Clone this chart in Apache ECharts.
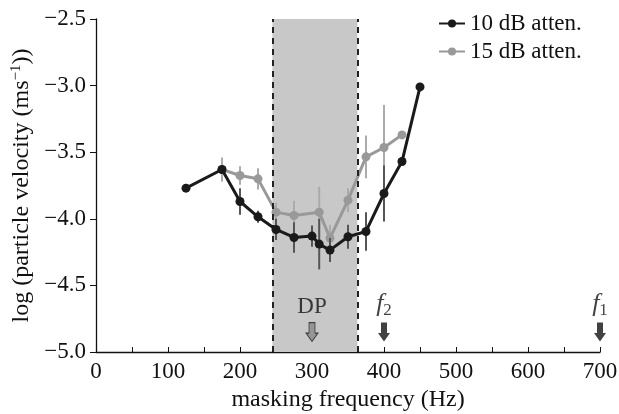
<!DOCTYPE html>
<html>
<head>
<meta charset="utf-8">
<script src="https://cdn.jsdelivr.net/npm/echarts@6/dist/echarts.min.js"></script>
<style>html,body{margin:0;padding:0;background:#fff}#c{width:619px;height:414px}</style>
</head>
<body>
<div id="c"></div>
<script>
// ---- data ----
var xBlack = [125, 175, 200, 225, 250, 275, 300, 310, 325, 350, 375, 400, 425, 450];
var yBlack = [-3.77, -3.63, -3.87, -3.985, -4.08, -4.14, -4.13, -4.19, -4.235, -4.135, -4.095, -3.81, -3.57, -3.01];
var eBlack = [0, 0, 0.10, 0.045, 0.08, 0.115, 0.08, 0.19, 0.09, 0.09, 0.145, 0.21, 0, 0];
var xGray = [175, 200, 225, 250, 275, 310, 325, 350, 375, 400, 425];
var yGray = [-3.63, -3.675, -3.70, -3.95, -3.975, -3.95, -4.145, -3.86, -3.535, -3.465, -3.37];
var eGray = [0.09, 0.07, 0.08, 0.07, 0.11, 0.19, 0.10, 0.09, 0.16, 0.32, 0];
var seriesNames = ['10 dB atten.', '15 dB atten.'];
var bandRange = [245, 363];
var annotX = [300, 400, 700];
var annotText = ['DP', '{f|f}{s|2}', '{f|f}{s|1}'];
var xTicks = [0, 100, 200, 300, 400, 500, 600, 700];
var yTicks = [-5.0, -4.5, -4.0, -3.5, -3.0, -2.5];

var FONT = 'Liberation Serif';
var blackData = xBlack.map(function (x, i) { return [x, yBlack[i]]; });
var grayData = xGray.map(function (x, i) { return [x, yGray[i]]; });
var blackErr = xBlack.map(function (x, i) { return [x, yBlack[i], eBlack[i]]; });
var grayErr = xGray.map(function (x, i) { return [x, yGray[i], eGray[i]]; });

function errRender(color) {
  return function (params, api) {
    var x = api.value(0), y = api.value(1), e = api.value(2);
    if (!e) return null;
    var p1 = api.coord([x, y + e]), p2 = api.coord([x, y - e]);
    return { type: 'line', shape: { x1: p1[0], y1: p1[1], x2: p2[0], y2: p2[1] },
             style: { stroke: color, lineWidth: 2 } };
  };
}

var arrowPath = 'path://M3,0 L9,0 L9,10 L12,10 L6,18 L0,10 L3,10 Z';
var annotData = annotX.map(function (x, i) {
  return {
    value: [x, -4.85],
    itemStyle: i === 0 ? { color: '#8a8a8a', borderColor: '#222', borderWidth: 1 } : { color: '#111' },
    label: { formatter: annotText[i] }
  };
});

var chart = echarts.init(document.getElementById('c'));
chart.setOption({
  animation: false,
  textStyle: { fontFamily: FONT },
  grid: { left: 96, right: 19, top: 19, bottom: 62, containLabel: false, outerBoundsMode: 'none' },
  legend: {
    data: seriesNames,
    orient: 'vertical',
    left: 433, top: 7,
    itemWidth: 26, itemHeight: 10, itemGap: 5,
    textStyle: { fontFamily: FONT, fontSize: 23, color: '#111' }
  },
  xAxis: {
    type: 'value', min: 0, max: 700, interval: 50,
    axisLine: { onZero: false, lineStyle: { color: '#111', width: 1.3 } },
    axisTick: { inside: true, length: 5, lineStyle: { color: '#111' } },
    splitLine: { show: false },
    axisLabel: {
      color: '#111', fontSize: 23, fontFamily: FONT, margin: 8,
      formatter: function (v) { return xTicks.indexOf(v) >= 0 ? String(v) : ''; }
    },
    name: 'masking frequency (Hz)', nameLocation: 'middle', nameGap: 36,
    nameTextStyle: { color: '#111', fontSize: 24, fontFamily: FONT }
  },
  yAxis: {
    type: 'value', min: -5, max: -2.5, interval: 0.5,
    axisLine: { lineStyle: { color: '#111', width: 1.3 } },
    axisTick: { inside: false, length: 6, lineStyle: { color: '#111' } },
    splitLine: { show: false },
    axisLabel: {
      color: '#111', fontSize: 23, fontFamily: FONT, margin: 10,
      formatter: function (v) { return yTicks.indexOf(v) >= 0 ? '\u2212' + Math.abs(v).toFixed(1) : ''; }
    },
    name: 'log (particle velocity (ms{sup|\u22121}))', nameLocation: 'middle', nameGap: 57,
    nameTextStyle: {
      color: '#111', fontSize: 24, fontFamily: FONT,
      rich: { sup: { fontSize: 15, fontFamily: FONT, color: '#111', padding: [0, 0, 11, 0] } }
    }
  },
  series: [
    {
      type: 'line', name: '__band', data: [], silent: true,
      markArea: { silent: true, itemStyle: { color: '#c8c8c8' },
        data: [[{ xAxis: bandRange[0] }, { xAxis: bandRange[1] }]] },
      markLine: { silent: true, symbol: 'none', label: { show: false },
        lineStyle: { type: [6, 5], color: '#222', width: 2 },
        data: [{ xAxis: bandRange[0] }, { xAxis: bandRange[1] }] }
    },
    {
      type: 'custom', name: 'grayErr', data: grayErr, renderItem: errRender('#ababab'), z: 3
    },
    {
      type: 'line', name: seriesNames[1], data: grayData, symbol: 'circle', symbolSize: 9,
      color: '#999999', lineStyle: { width: 3, color: '#999999' }, itemStyle: { color: '#999999' }, z: 4
    },
    {
      type: 'custom', name: 'blackErr', data: blackErr, renderItem: errRender('#555555'), z: 5
    },
    {
      type: 'line', name: seriesNames[0], data: blackData, symbol: 'circle', symbolSize: 9,
      color: '#1a1a1a', lineStyle: { width: 3, color: '#1a1a1a' }, itemStyle: { color: '#1a1a1a' }, z: 6
    },
    {
      type: 'scatter', name: 'annot', data: annotData, symbol: arrowPath, symbolSize: [12, 19], z: 7,
      label: {
        show: true, position: 'top', distance: 3, color: '#111', fontSize: 23, fontFamily: FONT,
        rich: {
          f: { fontStyle: 'italic', fontSize: 26, fontFamily: FONT, color: '#111' },
          s: { fontSize: 17, fontFamily: FONT, color: '#111', padding: [14, 0, 0, 0] }
        }
      }
    }
  ]
});
</script>
</body>
</html>
